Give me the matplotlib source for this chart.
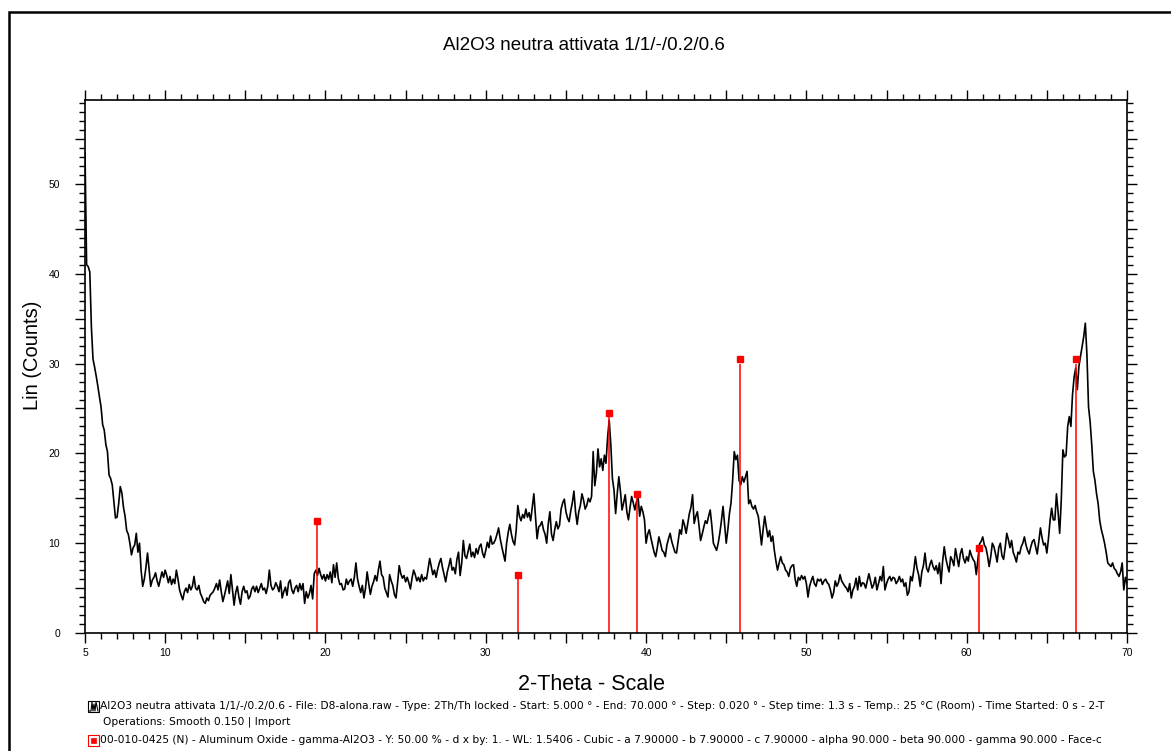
import numpy as np
import matplotlib
matplotlib.use("Agg")
from matplotlib import pyplot as plt
from matplotlib.patches import Rectangle
from matplotlib.lines import Line2D
from matplotlib.ticker import MultipleLocator, FuncFormatter

plt.rcParams['font.family'] = ['Liberation Sans', 'DejaVu Sans']

# measured pattern, read every 0.1 deg 2-theta (5.0 .. 70.0)
two_theta = np.round(np.arange(5.0, 70.0001, 0.1), 2)
counts = [
    53.5, 41.0, 40.8, 40.2, 34.0, 30.5, 29.6, 28.6, 27.5, 26.3,
    25.2, 23.2, 22.6, 21.0, 20.2, 17.6, 17.2, 16.5, 14.6, 12.8,
    12.9, 14.4, 16.3, 15.6, 14.0, 13.0, 11.4, 11.0, 10.0, 8.7,
    9.5, 9.8, 11.1, 9.0, 10.0, 7.0, 5.2, 6.0, 7.3, 8.9,
    7.0, 5.2, 5.9, 6.2, 6.7, 5.8, 5.2, 6.0, 6.8, 6.2,
    7.0, 6.4, 5.6, 6.3, 5.4, 6.0, 5.5, 7.0, 6.0, 4.8,
    4.2, 3.7, 4.6, 5.0, 4.5, 5.4, 4.8, 5.2, 6.3, 5.0,
    4.8, 5.3, 4.4, 4.0, 3.5, 3.3, 3.9, 3.6, 4.2, 4.4,
    4.6, 5.0, 5.5, 4.8, 5.9, 4.6, 3.5, 4.2, 5.0, 5.8,
    4.4, 6.5, 4.8, 3.1, 4.5, 5.2, 4.0, 3.2, 4.6, 5.2,
    4.5, 4.7, 3.8, 4.1, 4.9, 5.2, 4.6, 5.2, 4.5, 5.0,
    5.5, 4.8, 5.0, 4.4, 5.2, 7.0, 5.3, 4.8, 5.0, 5.6,
    5.2, 4.6, 5.8, 3.9, 4.6, 5.1, 4.2, 5.6, 5.9, 4.8,
    4.4, 5.0, 5.3, 4.6, 5.5, 4.8, 5.5, 3.3, 4.6, 3.9,
    4.4, 5.3, 3.8, 6.6, 7.0, 6.4, 7.2, 6.5, 6.0, 6.5,
    5.8, 6.5, 6.0, 6.8, 5.6, 7.6, 6.2, 7.8, 6.1, 5.4,
    5.5, 4.8, 4.9, 6.0, 5.4, 5.8, 6.0, 5.2, 6.2, 7.8,
    6.0, 5.2, 4.5, 5.3, 3.9, 5.0, 6.8, 5.5, 4.3, 5.2,
    5.7, 6.4, 5.8, 7.0, 8.0, 6.5, 6.2, 5.0, 4.5, 4.0,
    6.5, 5.8, 5.3, 4.3, 3.9, 5.6, 7.5, 6.6, 6.1, 6.4,
    5.7, 6.2, 5.6, 4.9, 6.1, 7.0, 6.5, 5.8, 6.2, 5.7,
    6.5, 5.8, 6.2, 6.0, 7.1, 8.3, 7.4, 6.5, 7.0, 6.2,
    7.1, 7.8, 8.3, 7.3, 6.5, 5.7, 6.8, 7.5, 8.3, 7.0,
    7.3, 6.6, 8.2, 9.0, 6.4, 7.8, 10.3, 8.6, 8.3, 9.1,
    9.9, 8.5, 9.0, 8.4, 9.4, 8.8, 9.6, 9.9, 8.9, 8.4,
    9.2, 10.1, 9.5, 10.8, 9.9, 10.0, 10.4, 11.0, 11.7, 10.5,
    9.6, 8.8, 8.0, 10.0, 11.2, 12.1, 11.0, 10.2, 9.8, 11.5,
    14.2, 13.0, 12.5, 13.2, 12.8, 13.8, 12.9, 13.4, 12.5, 14.0,
    15.5, 13.0, 10.5, 11.8, 12.0, 12.4, 11.5, 11.0, 10.0, 12.2,
    13.5, 11.0, 10.3, 11.5, 12.4, 11.6, 12.0, 13.8, 14.5, 14.9,
    13.5, 12.8, 12.4, 13.6, 14.5, 15.8, 13.5, 12.1, 13.5, 14.2,
    15.5, 14.8, 13.8, 14.2, 15.0, 14.6, 15.2, 20.2, 16.4, 17.8,
    20.5, 18.5, 19.4, 18.1, 19.8, 18.9, 21.8, 23.7, 21.0, 17.2,
    15.9, 13.3, 15.5, 17.4, 15.8, 13.7, 14.5, 15.4, 13.5, 12.6,
    14.0, 15.2, 14.5, 13.7, 14.6, 15.2, 13.0, 14.1, 13.5, 12.6,
    10.0, 11.0, 11.5, 10.6, 9.8, 9.0, 8.5, 9.5, 10.7, 10.0,
    9.2, 9.0, 8.5, 9.8, 10.5, 11.1, 10.2, 9.6, 9.0, 8.9,
    10.2, 11.5, 11.0, 12.6, 12.0, 11.1, 12.2, 13.3, 14.0, 15.4,
    12.2, 13.0, 13.5, 12.0, 10.3, 11.0, 11.8, 12.5, 12.2, 13.0,
    13.7, 12.0, 10.0, 9.6, 9.2, 10.0, 11.1, 12.5, 14.1, 12.0,
    10.0, 11.5, 13.3, 14.5, 17.0, 20.2, 19.3, 19.8, 17.0, 16.5,
    17.4, 16.8, 17.4, 18.0, 14.4, 14.8, 14.1, 13.8, 14.2, 13.5,
    13.0, 11.5, 9.8, 11.5, 13.0, 11.8, 10.7, 11.4, 10.2, 10.8,
    9.2, 8.0, 7.0, 7.8, 8.5, 7.8, 7.6, 7.0, 6.8, 6.3,
    7.2, 7.5, 7.6, 6.0, 5.2, 6.2, 5.9, 6.4, 6.0, 6.3,
    5.5, 4.0, 5.2, 5.8, 6.3, 5.5, 5.2, 6.0, 5.8, 6.0,
    5.4, 5.8, 6.0, 5.6, 5.4, 4.8, 3.9, 4.5, 5.8, 5.2,
    5.6, 6.5, 5.8, 5.5, 5.2, 5.0, 4.6, 5.5, 3.9, 4.8,
    5.2, 6.1, 4.8, 6.3, 5.2, 5.6, 5.5, 5.0, 5.8, 6.6,
    5.8, 5.0, 5.4, 6.2, 4.8, 5.5, 6.3, 5.8, 7.4, 4.8,
    5.5, 6.0, 6.3, 5.8, 6.2, 6.1, 5.5, 5.8, 6.3, 5.7,
    6.0, 5.2, 5.6, 4.2, 4.6, 6.3, 5.8, 7.0, 8.5, 7.2,
    6.5, 5.2, 6.8, 7.5, 8.9, 7.2, 6.8, 7.6, 8.1, 7.4,
    7.0, 7.5, 6.6, 7.8, 5.5, 8.0, 9.6, 8.3, 7.5, 6.8,
    8.5, 8.1, 7.5, 9.4, 8.4, 7.4, 8.8, 9.4, 8.3, 7.8,
    8.5, 8.0, 9.2, 8.6, 8.2, 7.9, 6.5, 8.2, 9.9, 10.2,
    10.7, 9.8, 9.5, 8.6, 7.4, 8.5, 10.0, 9.6, 8.8, 7.9,
    9.5, 10.0, 8.6, 8.2, 9.5, 11.1, 10.4, 9.5, 10.3, 9.0,
    8.5, 7.9, 9.0, 8.8, 9.6, 10.0, 10.7, 9.8, 9.2, 8.8,
    9.6, 10.2, 10.4, 9.6, 8.8, 10.2, 11.7, 10.6, 9.8, 10.0,
    8.9, 10.5, 12.5, 13.9, 12.6, 12.6, 15.5, 13.5, 11.1, 14.8,
    20.4, 19.6, 19.8, 23.0, 24.1, 23.0, 26.5, 28.5, 29.5, 27.1,
    29.7, 30.8, 31.9, 33.0, 34.5, 31.0, 25.2, 23.5, 21.0, 18.0,
    17.0, 15.5, 14.4, 12.5, 11.5, 10.8, 10.0, 9.0, 7.8, 7.6,
    7.4, 7.8, 7.2, 7.0, 6.6, 6.3, 6.8, 7.8, 4.8, 6.2,
    5.5,
]

# reference card 00-010-0425 gamma-Al2O3 (stick positions and scaled heights)
ref_pos = [19.47, 31.99, 37.67, 39.45, 45.84, 60.77, 66.82]
ref_height = [12.0, 6.0, 24.0, 15.0, 30.0, 9.0, 30.0]

title = "Al2O3 neutra attivata 1/1/-/0.2/0.6"
scan_info = ("Al2O3 neutra attivata 1/1/-/0.2/0.6 - File: D8-alona.raw - Type: 2Th/Th locked - "
             "Start: 5.000 \u00b0 - End: 70.000 \u00b0 - Step: 0.020 \u00b0 - Step time: 1.3 s - "
             "Temp.: 25 \u00b0C (Room) - Time Started: 0 s - 2-T")
ops_info = "Operations: Smooth 0.150 | Import"
card_info = ("00-010-0425 (N) - Aluminum Oxide - gamma-Al2O3 - Y: 50.00 % - d x by: 1. - WL: 1.5406 - "
             "Cubic - a 7.90000 - b 7.90000 - c 7.90000 - alpha 90.000 - beta 90.000 - gamma 90.000 - Face-c")

W, H = 1171, 751
fig = plt.figure(figsize=(W / 100, H / 100), dpi=100)
ax = fig.add_axes([85 / W, 1 - 633 / H, (1127 - 85) / W, (633 - 100) / H])

ax.plot(two_theta, counts, color="black", lw=1.2)
ax.vlines(ref_pos, 0, ref_height, color="red", lw=1.1)
ax.plot(ref_pos, np.array(ref_height) + 0.5, ls="none", marker="s", ms=4,
        color="red", mec="red")

ax.set_xlim(5, 70)
ax.set_ylim(0, 59.35)

for s in ax.spines.values():
    s.set_linewidth(1.2)

# x ticks: labels at 5 and every 10, ticks every 5 and 1
ax.xaxis.set_major_locator(MultipleLocator(5))
ax.xaxis.set_minor_locator(MultipleLocator(1))
ax.xaxis.set_major_formatter(FuncFormatter(
    lambda v, p: "%d" % v if (round(v) % 10 == 0 or round(v) == 5) else ""))
ax.yaxis.set_major_locator(MultipleLocator(5))
ax.yaxis.set_minor_locator(MultipleLocator(1))
ax.yaxis.set_major_formatter(FuncFormatter(
    lambda v, p: "%d" % v if round(v) % 10 == 0 else ""))

ax.tick_params(which="both", direction="out", top=True, right=True,
               labelsize=7.5, width=1.0, colors="black")
ax.tick_params(which="major", length=7)
ax.tick_params(which="minor", length=4)
ax.tick_params(axis="y", pad=11)
ax.tick_params(axis="x", pad=4)

ax.set_xlabel("2-Theta - Scale", fontsize=15.5)
ax.xaxis.set_label_coords((591 - 85) / 1042, (633 - 684) / 533)
ax.xaxis.label.set_va("center")
ax.set_ylabel("Lin (Counts)", fontsize=14.5)
ax.yaxis.set_label_coords((33 - 85) / 1042, (633 - 355) / 533)
ax.yaxis.label.set_va("center")

fig.text(584 / W, 1 - 45 / H, title, ha="center", va="center", fontsize=13.5)

# footer
foot = dict(ha="left", va="center", fontsize=7.7, family="DejaVu Sans")
fig.text(100 / W, 1 - 706 / H, scan_info, **foot)
fig.text(103 / W, 1 - 722 / H, ops_info, **foot)
fig.text(100 / W, 1 - 740 / H, card_info, **foot)

fig.add_artist(Rectangle((88 / W, 1 - 712 / H), 11 / W, 11 / H, transform=fig.transFigure,
                         fill=False, ec="black", lw=0.8))
fig.add_artist(Line2D(np.array([89, 91, 92, 93, 94, 95, 96, 98]) / W,
                      1 - np.array([711, 711, 702, 711, 704, 711, 702, 711]) / H,
                      transform=fig.transFigure, color="black", lw=0.8))
fig.add_artist(Rectangle((88 / W, 1 - 746 / H), 11 / W, 11 / H, transform=fig.transFigure,
                         fill=False, ec="red", lw=0.8))
fig.add_artist(Rectangle((91 / W, 1 - 743 / H), 5 / W, 5 / H, transform=fig.transFigure,
                         fill=True, fc="red", ec="red", lw=0.5))

# outer frame
fig.add_artist(Rectangle((9 / W, -0.05), 1.1, 1 - 12 / H + 0.05, transform=fig.transFigure,
                         fill=False, ec="black", lw=1.8, clip_on=False))

fig.savefig("out.png", dpi=100)
